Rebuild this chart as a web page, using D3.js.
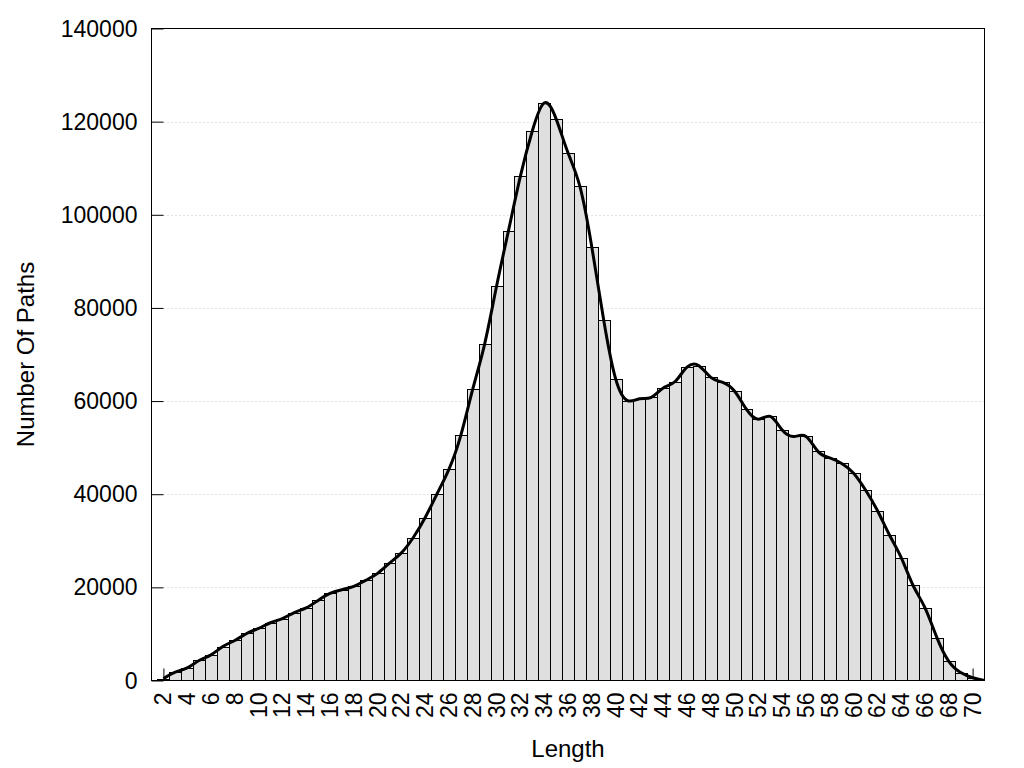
<!DOCTYPE html>
<html>
<head>
<meta charset="utf-8">
<script src="https://cdn.jsdelivr.net/npm/d3@7"></script>
<style>
  html, body { margin: 0; padding: 0; background: #fff; }
  svg { display: block; }
  text { font-family: "Liberation Sans", Arial, sans-serif; fill: #000; }
</style>
</head>
<body>
<svg id="chart" width="1024" height="768"></svg>
<script>
// Path lengths (categories)
const lengths = [2,3,4,5,6,7,8,9,10,11,12,13,14,15,16,17,18,19,20,21,22,23,24,25,26,27,28,29,30,31,32,33,34,35,36,37,38,39,40,41,42,43,44,45,46,47,48,49,50,51,52,53,54,55,56,57,58,59,60,61,62,63,64,65,66,67,68,69,70,71];
// Number of paths per length
const counts = [400,1800,2700,4300,5500,7300,8600,10100,11200,12400,13300,14600,15600,17200,18700,19500,20200,21500,23000,25200,27400,30700,35000,40100,45400,52700,62600,72300,84700,96600,108300,118000,124000,120600,113300,106100,93100,77400,64800,60100,60500,60800,62800,64200,67300,67600,65100,64000,62100,58200,56100,56700,53800,52400,52400,49200,47800,46600,44500,40900,36500,31300,26400,20400,15600,9200,4100,1700,600,0];
// Tick labels
const xTicks = d3.range(2, 71, 2);
const yTicks = [0,20000,40000,60000,80000,100000,120000,140000];
const xTitle = "Length";
const yTitle = "Number Of Paths";

const svg = d3.select("#chart");
const L = 151.5, R = 984.5, T = 28.5, B = 680.5;

const x = d3.scaleLinear().domain([1, 71]).range([L, R]);
const y = d3.scaleLinear().domain([0, 140000]).range([B, T]);

const data = lengths.map((l, i) => ({ l, v: counts[i] }));

svg.append("defs").append("clipPath").attr("id", "clip")
  .append("rect").attr("x", L).attr("y", T).attr("width", R - L).attr("height", B - T);

// Grid lines
svg.append("g").selectAll("line").data(yTicks.filter(d => d > 0 && d < 140000)).join("line")
  .attr("x1", L + 12).attr("x2", R)
  .attr("y1", d => Math.round(y(d)) + 0.5).attr("y2", d => Math.round(y(d)) + 0.5)
  .attr("stroke", "#c8c8c8").attr("stroke-width", 1).attr("stroke-dasharray", "1,3");

// Y axis (ticks inward) using d3 axis
const yAxis = d3.axisRight(y).tickValues(yTicks).tickSize(12).tickFormat("");
const yg = svg.append("g").attr("transform", `translate(${L},0)`).call(yAxis);
yg.select(".domain").remove();
yg.selectAll(".tick line").attr("stroke", "#000");

// X axis ticks (inward, behind bars)
const xAxis = d3.axisTop(x).tickValues(xTicks).tickSize(12).tickFormat("");
const xg = svg.append("g").attr("transform", `translate(0,${B})`).call(xAxis);
xg.select(".domain").remove();
xg.selectAll(".tick line").attr("stroke", "#000");

// Bars
svg.append("g").attr("clip-path", "url(#clip)").selectAll("rect").data(data).join("rect")
  .attr("x", d => Math.round(x(d.l - 0.5)) + 0.5)
  .attr("width", d => Math.round(x(d.l + 0.5)) - Math.round(x(d.l - 0.5)))
  .attr("y", d => Math.round(y(d.v)) + 0.5)
  .attr("height", d => Math.max(0, Math.round(B) - Math.round(y(d.v))))
  .attr("fill", "#dfdfdf").attr("stroke", "#000").attr("stroke-width", 1);

// Smooth curve
const line = d3.line().x(d => x(d.l)).y(d => y(d.v)).curve(d3.curveNatural);
svg.append("path").datum(data).attr("clip-path", "url(#clip)")
  .attr("d", line).attr("fill", "none").attr("stroke", "#000").attr("stroke-width", 3)
  .attr("stroke-linejoin", "round");

// Border
svg.append("rect").attr("x", L).attr("y", T).attr("width", R - L).attr("height", B - T)
  .attr("fill", "none").attr("stroke", "#000").attr("stroke-width", 1);

// Y tick labels
svg.append("g").selectAll("text").data(yTicks).join("text")
  .attr("x", L - 14).attr("y", d => y(d)).attr("dy", "0.35em")
  .attr("text-anchor", "end").style("font-size", "23px").text(d => d);

// X tick labels (rotated)
svg.append("g").selectAll("text").data(xTicks).join("text")
  .attr("transform", d => `translate(${x(d)},${B + 12}) rotate(-90)`)
  .attr("dy", "0.35em").attr("text-anchor", "end").style("font-size", "23px").text(d => d);

// Axis titles
svg.append("text").attr("x", (L + R) / 2).attr("y", 757).attr("text-anchor", "middle")
  .style("font-size", "24px").text(xTitle);
svg.append("text").attr("transform", `translate(33.5,${(T + B) / 2}) rotate(-90)`)
  .attr("text-anchor", "middle").style("font-size", "24px").text(yTitle);
</script>
</body>
</html>
